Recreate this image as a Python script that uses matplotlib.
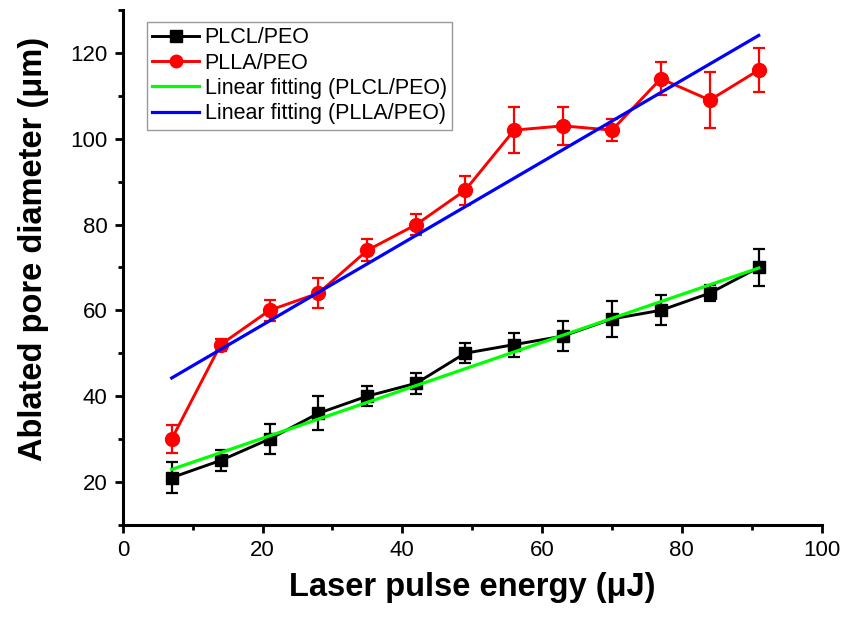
import numpy as np
import matplotlib
matplotlib.use("Agg")
import matplotlib.pyplot as plt
from matplotlib.ticker import MultipleLocator

plt.rcParams['font.family'] = ['Liberation Sans', 'DejaVu Sans']

# Laser pulse energy (uJ)
energy = [7, 14, 21, 28, 35, 42, 49, 56, 63, 70, 77, 84, 91]

# Ablated pore diameter (um) and standard deviations
plcl_peo = [21, 25, 30, 36, 40, 43, 50, 52, 54, 58, 60, 64, 70]
plcl_err = [3.6, 2.4, 3.5, 4.0, 2.4, 2.4, 2.3, 2.8, 3.4, 4.2, 3.5, 1.8, 4.3]
plla_peo = [30, 52, 60, 64, 74, 80, 88, 102, 103, 102, 114, 109, 116]
plla_err = [3.2, 1.4, 2.4, 3.5, 2.6, 2.5, 3.4, 5.4, 4.4, 2.5, 3.8, 6.5, 5.1]

x = np.array(energy, dtype=float)
fit_plcl = np.polyfit(x, plcl_peo, 1)
fit_plla = np.polyfit(x, plla_peo, 1)

fig = plt.figure(figsize=(8.47, 6.27), dpi=100)
ax = fig.add_axes([0.145, 0.163, 0.825, 0.821])

lw = 2.1
eb1 = ax.errorbar(x, plcl_peo, yerr=plcl_err, color='black', marker='s', markersize=9,
                  linewidth=lw, elinewidth=1.6, capsize=4, capthick=1.6, zorder=3)
eb2 = ax.errorbar(x, plla_peo, yerr=plla_err, color='#ff0000', marker='o', markersize=10,
                  linewidth=lw, elinewidth=1.6, capsize=4, capthick=1.6, zorder=3)
fl1, = ax.plot(x[[0, -1]], np.polyval(fit_plcl, x[[0, -1]]), color='#00ff00',
               linewidth=2.3, zorder=4)
fl2, = ax.plot(x[[0, -1]], np.polyval(fit_plla, x[[0, -1]]), color='#0000ff',
               linewidth=2.3, zorder=4)

ax.set_xlim(0, 100)
ax.set_ylim(10, 130)
ax.xaxis.set_major_locator(MultipleLocator(20))
ax.xaxis.set_minor_locator(MultipleLocator(10))
ax.yaxis.set_minor_locator(MultipleLocator(10))
ax.set_yticks([20, 40, 60, 80, 100, 120])

for side in ('top', 'right'):
    ax.spines[side].set_visible(False)
for side in ('left', 'bottom'):
    ax.spines[side].set_linewidth(2.2)

ax.tick_params(which='major', direction='out', length=6, width=2, labelsize=16, pad=5)
ax.tick_params(which='minor', direction='out', length=3.5, width=2)

ax.set_xlabel('Laser pulse energy (\u03bcJ)', fontsize=23.5, fontweight='bold', labelpad=8)
ax.set_ylabel('Ablated pore diameter (\u03bcm)', fontsize=23.5, fontweight='bold')
ax.yaxis.set_label_coords(-0.105, 0.535)

leg = ax.legend([eb1[0], eb2[0], fl1, fl2],
                ['PLCL/PEO', 'PLLA/PEO', 'Linear fitting (PLCL/PEO)',
                 'Linear fitting (PLLA/PEO)'],
                loc='upper left', bbox_to_anchor=(0.034, 0.977), fontsize=15.5,
                frameon=True, fancybox=False, edgecolor='#999999', framealpha=1,
                handlelength=2.2, handletextpad=0.25, borderpad=0.25,
                labelspacing=0.2, borderaxespad=0, markerscale=0.9)
leg.get_frame().set_linewidth(1.0)

fig.savefig('out.png', dpi=100)
